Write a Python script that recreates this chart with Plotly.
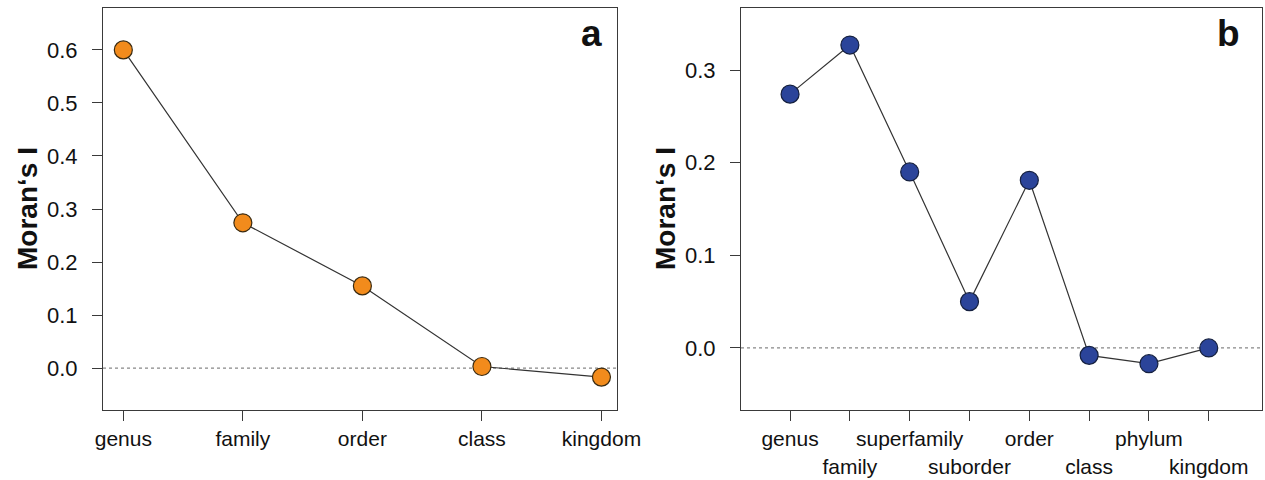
import plotly.graph_objects as go

# ---- data ----
cats_a = ["genus", "family", "order", "class", "kingdom"]
vals_a = [0.600, 0.274, 0.155, 0.003, -0.017]

cats_b = ["genus", "family", "superfamily", "suborder", "order", "class", "phylum", "kingdom"]
vals_b = [0.274, 0.327, 0.190, 0.050, 0.181, -0.008, -0.017, 0.000]

yticks_a = [0.0, 0.1, 0.2, 0.3, 0.4, 0.5, 0.6]
yticks_b = [0.0, 0.1, 0.2, 0.3]

W, H = 1265, 480
FONT = "Liberation Sans, Arial, sans-serif"
AXC = "#3a3a3a"
TXT = "#111111"

def px_x(p):
    return p / W

def px_y(p):
    return 1 - p / H

fig = go.Figure()

xa = list(range(1, len(cats_a) + 1))
xb = list(range(1, len(cats_b) + 1))

fig.add_trace(go.Scatter(
    x=xa, y=vals_a, mode="lines+markers", xaxis="x", yaxis="y",
    line=dict(color="#333333", width=1.2),
    marker=dict(size=18, color="#F28B1C", line=dict(color="#3a2a10", width=1.2)),
    hoverinfo="x+y", showlegend=False))

fig.add_trace(go.Scatter(
    x=xb, y=vals_b, mode="lines+markers", xaxis="x2", yaxis="y2",
    line=dict(color="#333333", width=1.2),
    marker=dict(size=18, color="#2B449A", line=dict(color="#15203f", width=1.2)),
    hoverinfo="x+y", showlegend=False))

# zero reference lines
for xr, yr in (("x domain", "y"), ("x2 domain", "y2")):
    fig.add_shape(type="line", xref=xr, yref=yr, x0=0, x1=1, y0=0, y1=0,
                  line=dict(color="#888888", width=1.2, dash="dot"), layer="below")

ticktext_b = [c if i % 2 == 0 else "<br>" + c for i, c in enumerate(cats_b)]

common_ax = dict(showline=True, mirror=True, linecolor=AXC, linewidth=1,
                 ticks="outside", ticklen=10, tickwidth=1, tickcolor=AXC,
                 showgrid=False, zeroline=False, automargin=False, tickangle=0)
xfont = dict(family=FONT, size=21, color=TXT)
yfont = dict(family=FONT, size=22, color=TXT)

fig.update_layout(
    width=W, height=H,
    margin=dict(l=0, r=0, t=0, b=0, pad=0, autoexpand=False),
    paper_bgcolor="white", plot_bgcolor="white",
    font=dict(family=FONT, color=TXT),
    xaxis=dict(domain=[px_x(103), px_x(617)], range=[0.83, 5.13], tickfont=xfont,
               tickvals=xa, ticktext=cats_a, anchor="y", ticklabelstandoff=0, **common_ax),
    yaxis=dict(domain=[px_y(410), px_y(8)], range=[-0.079, 0.679], tickfont=yfont,
               tickvals=yticks_a, tickformat=".1f", anchor="x", ticklabelstandoff=10, **common_ax),
    xaxis2=dict(domain=[px_x(741), px_x(1262)], range=[0.18, 8.89], tickfont=xfont,
                tickvals=xb, ticktext=ticktext_b, anchor="y2", ticklabelstandoff=0, **common_ax),
    yaxis2=dict(domain=[px_y(410), px_y(8)], range=[-0.067, 0.367], tickfont=yfont,
                tickvals=yticks_b, tickformat=".1f", anchor="x2", ticklabelstandoff=10, **common_ax),
)

# y-axis titles
for xc in (27, 665):
    fig.add_annotation(text="<b>Moran‘s I</b>", xref="paper", yref="paper",
                       x=px_x(xc), y=px_y(209), textangle=-90, showarrow=False,
                       xanchor="center", yanchor="middle",
                       font=dict(family=FONT, size=28, color=TXT))

# panel letters
for lab, xc in (("a", 591), ("b", 1228)):
    fig.add_annotation(text="<b>%s</b>" % lab, xref="paper", yref="paper",
                       x=px_x(xc), y=px_y(34), showarrow=False,
                       xanchor="center", yanchor="middle",
                       font=dict(family=FONT, size=37, color=TXT))

fig.write_html("out.html", config={"displayModeBar": False},
               post_script="document.body.style.margin='0';document.body.style.overflow='hidden';")
